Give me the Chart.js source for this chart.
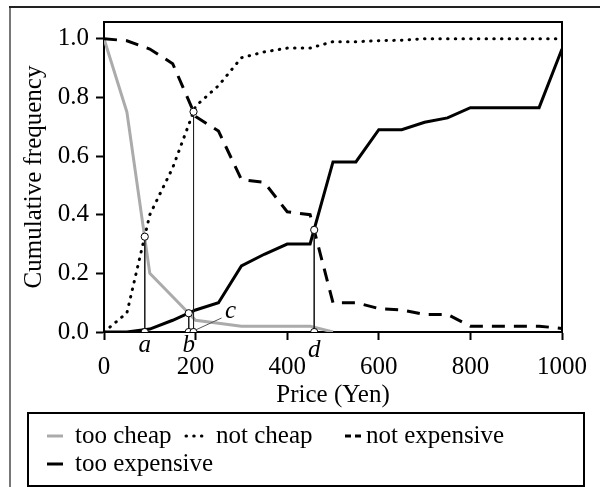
<!DOCTYPE html>
<html lang="en">
<head>
<meta charset="UTF-8">
<title>Price sensitivity</title>
<script src="https://cdn.jsdelivr.net/npm/chart.js"></script>
<style>
  body { margin: 0; background: #fff; overflow: hidden; }
  #chart { display: block; }
</style>
</head>
<body>
<canvas id="chart" width="600" height="487"></canvas>
<script>
// price points (yen) and cumulative frequencies
const prices       = [0, 50, 100, 150, 200, 250, 300, 350, 400, 450, 500, 550, 600, 650, 700, 750, 800, 850, 900, 950, 1000];
const tooCheap     = [1.0, 0.75, 0.20, 0.12, 0.04, 0.03, 0.02, 0.02, 0.02, 0.02, 0.0];
const notCheap     = [0.0, 0.065, 0.40, 0.56, 0.77, 0.84, 0.935, 0.955, 0.968, 0.968, 0.99, 0.99, 0.993, 0.995, 1.0, 1.0, 1.0, 1.0, 1.0, 1.0, 1.0];
const notExpensive = [1.0, 0.993, 0.965, 0.915, 0.735, 0.685, 0.52, 0.51, 0.41, 0.40, 0.10, 0.10, 0.08, 0.075, 0.06, 0.06, 0.02, 0.02, 0.02, 0.02, 0.012];
const tooExpensive = [0.0, 0.0, 0.01, 0.04, 0.075, 0.10, 0.225, 0.265, 0.30, 0.30, 0.58, 0.58, 0.69, 0.69, 0.715, 0.73, 0.765, 0.765, 0.765, 0.765, 0.965];

// crossing points a-d
const markPrice = [89, 185, 195.5, 459];
const markFreq  = [0.325, 0.064, 0.751, 0.348];
const markLabel = ['a', 'b', 'c', 'd'];

const xTicks = [0, 200, 400, 600, 800, 1000];
const yTicks = [0, 0.2, 0.4, 0.6, 0.8, 1.0];

const FONT = "'Liberation Serif', 'Times New Roman', 'DejaVu Serif', serif";
Chart.defaults.font.family = FONT;
Chart.defaults.font.size = 25;
Chart.defaults.color = '#000';

const pts = ys => ys.map((y, i) => ({ x: prices[i], y: y }));

const series = [
  { label: 'too cheap', data: pts(tooCheap), borderColor: '#ababab', borderWidth: 3, order: 5 },
  { label: 'not cheap', data: pts(notCheap), borderColor: '#000', borderWidth: 3,
    borderDash: [0.5, 7.2], borderCapStyle: 'round', order: 4 },
  { label: 'not expensive', data: pts(notExpensive), borderColor: '#000', borderWidth: 3,
    borderDash: [13, 9], order: 3, legendDash: [6, 4] },
  { label: 'too expensive', data: pts(tooExpensive), borderColor: '#000', borderWidth: 3, order: 2 }
];
series.forEach(s => { s.pointRadius = 0; s.fill = false; s.tension = 0; });

// thin drop lines from each crossing down to the axis
const drops = markPrice.map((p, i) => ({
  label: 'drop ' + markLabel[i],
  data: [{ x: p, y: markFreq[i] }, { x: p, y: 0 }],
  borderColor: '#222', borderWidth: 1, pointRadius: 0, order: 1
}));

const circles = {
  label: 'marks',
  data: markPrice.flatMap((p, i) => [{ x: p, y: markFreq[i] }, { x: p, y: 0 }]),
  showLine: false, pointRadius: 3.6, pointBackgroundColor: '#fff',
  pointBorderColor: '#000', pointBorderWidth: 1, order: 0
};

const legendItems = [
  { ds: 0, row: 0, sx: 47, tx: 75 },
  { ds: 1, row: 0, sx: 186, tx: 216 },
  { ds: 2, row: 0, sx: 345, tx: 366 },
  { ds: 3, row: 1, sx: 47, tx: 75 }
];

const decor = {
  id: 'decor',
  beforeDraw(chart) {
    const c = chart.ctx, a = chart.chartArea;
    c.save();
    c.fillStyle = '#fff';
    c.fillRect(0, 0, chart.width, chart.height);
    c.lineWidth = 2;
    c.strokeStyle = '#777';
    c.beginPath(); c.moveTo(10, 7); c.lineTo(10, chart.height); c.stroke();
    c.strokeStyle = '#222';
    c.beginPath(); c.moveTo(9, 7); c.lineTo(chart.width, 7); c.stroke();
    // top and right sides of the plot box
    c.strokeStyle = '#000';
    c.beginPath(); c.moveTo(a.left, a.top); c.lineTo(a.right, a.top); c.lineTo(a.right, a.bottom); c.stroke();
    c.restore();
  },
  afterDatasetsDraw(chart) {
    const c = chart.ctx, xs = chart.scales.x, ys = chart.scales.y;
    c.save();
    c.font = 'italic 25px ' + FONT;
    c.fillStyle = '#000';
    c.textAlign = 'center';
    c.textBaseline = 'alphabetic';
    markPrice.forEach((p, i) => {
      const px = xs.getPixelForValue(p), py = ys.getPixelForValue(0);
      if (markLabel[i] === 'c') {
        c.strokeStyle = '#555'; c.lineWidth = 1;
        c.beginPath(); c.moveTo(px + 2, py - 2); c.lineTo(px + 28, py - 14); c.stroke();
        c.fillText(markLabel[i], px + 37, py - 14);
      } else {
        c.fillText(markLabel[i], px, py + (markLabel[i] === 'd' ? 25 : 20));
      }
    });
    c.restore();
  },
  afterDraw(chart) {
    const c = chart.ctx;
    c.save();
    c.lineWidth = 2;
    c.strokeStyle = '#000';
    c.strokeRect(28, 413, 556, 73);
    c.font = '25px ' + FONT;
    c.fillStyle = '#000';
    c.textBaseline = 'alphabetic';
    legendItems.forEach(it => {
      const ds = chart.data.datasets[it.ds];
      const base = 443 + it.row * 28;
      c.save();
      c.strokeStyle = ds.borderColor;
      c.lineWidth = ds.borderWidth;
      c.lineCap = ds.borderCapStyle || 'butt';
      c.setLineDash(ds.legendDash || ds.borderDash || []);
      c.beginPath(); c.moveTo(it.sx, base - 7); c.lineTo(it.sx + 16, base - 7); c.stroke();
      c.restore();
      c.fillText(ds.label, it.tx, base);
    });
    c.restore();
  }
};

new Chart(document.getElementById('chart'), {
  type: 'line',
  data: { datasets: [...series, ...drops, circles] },
  options: {
    responsive: false,
    animation: false,
    layout: { padding: { left: 0, top: 15, right: 38, bottom: 75 } },
    plugins: { legend: { display: false }, tooltip: { enabled: false } },
    scales: {
      x: {
        type: 'linear', min: 0, max: 1000,
        afterBuildTicks: s => { s.ticks = xTicks.map(v => ({ value: v })); },
        afterFit: s => { s.height = 80; },
        ticks: { padding: 12, maxRotation: 0, callback: v => String(v) },
        grid: { display: true, drawOnChartArea: false, drawTicks: true, tickLength: 8, tickWidth: 2, tickColor: '#000' },
        border: { display: true, color: '#000', width: 2 },
        title: { display: true, text: 'Price (Yen)', padding: { top: 0, bottom: 2 } }
      },
      y: {
        min: 0, max: 1.057,
        afterBuildTicks: s => { s.ticks = yTicks.map(v => ({ value: v })); },
        afterFit: s => { s.width = 104; },
        ticks: { padding: 7, callback: v => v.toFixed(1) },
        grid: { display: true, drawOnChartArea: false, drawTicks: true, tickLength: 8, tickWidth: 2, tickColor: '#000' },
        border: { display: true, color: '#000', width: 2 },
        title: { display: true, text: 'Cumulative frequency', padding: { top: 19, bottom: 0 } }
      }
    }
  },
  plugins: [decor]
});
</script>
</body>
</html>
